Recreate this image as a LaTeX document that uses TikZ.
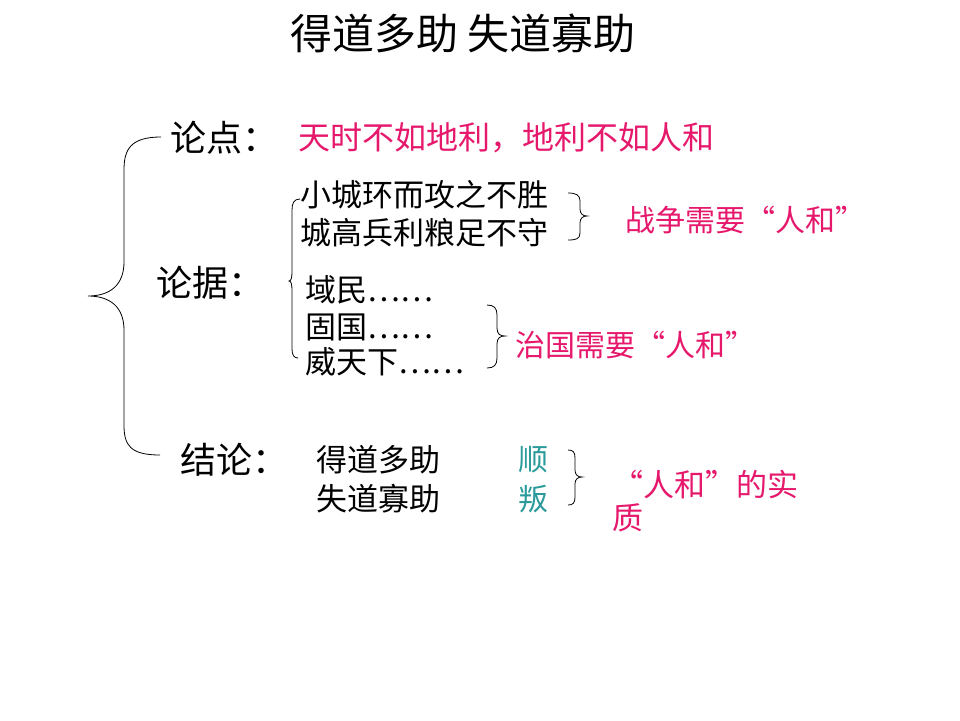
\documentclass[tikz,border=0pt]{standalone}
\usepackage{fontspec}
\setmainfont{Noto Sans CJK SC}
\definecolor{pinkc}{HTML}{E6186C}
\definecolor{tealc}{HTML}{2A9A9A}
\begin{document}
\begin{tikzpicture}[x=1pt,y=-1pt,
  txt/.style={anchor=west,inner sep=0pt,font=\fontsize{31}{31}\selectfont},
  head/.style={anchor=west,inner sep=0pt,font=\fontsize{36}{36}\selectfont},
  pinktxt/.style={txt,text=pinkc,font=\fontsize{30}{30}\selectfont},
  tealtxt/.style={txt,text=tealc,font=\fontsize{30}{30}\selectfont},
  brc/.style={draw=black,line width=0.8pt}]
\useasboundingbox (0,0) rectangle (960,720);
\node[inner sep=0pt,font=\fontsize{42}{42}\selectfont] (title) at (463,33) {得道多助 失道寡助};
\node[head] (ld) at (170,138) {论点：};
\node[pinktxt,font=\fontsize{32}{32}\selectfont] (p1) at (298,138) {天时不如地利，地利不如人和};
\node[head] (lj) at (156,283) {论据：};
\node[txt] (a1) at (300,195) {小城环而攻之不胜};
\node[txt] (a2) at (300,233) {城高兵利粮足不守};
\node[pinktxt] (p2) at (625,220) {战争需要“人和”};
\node[txt] (b1) at (305,290) {域民……};
\node[txt] (b2) at (305,327) {固国……};
\node[txt] (b3) at (305,362) {威天下……};
\node[pinktxt] (p3) at (515,345) {治国需要“人和”};
\node[head] (jl) at (180,460) {结论：};
\node[txt] (c1) at (316,460) {得道多助};
\node[txt] (c2) at (316,499) {失道寡助};
\node[tealtxt] (t1) at (518,460) {顺};
\node[tealtxt] (t2) at (518,499) {叛};
\node[pinktxt,font=\fontsize{31}{31}\selectfont] (p4) at (612,485) {“人和”的实};
\node[pinktxt,font=\fontsize{31}{31}\selectfont] (p5) at (612,518) {质};
% big brace
\draw[brc] (161,137) .. controls (130,137) and (124,150) .. (124,170)
  -- (124,262) .. controls (124,285) and (110,296) .. (88,296)
  .. controls (110,296) and (124,307) .. (124,330)
  -- (124,425) .. controls (124,445) and (130,455) .. (160,455);
% small left brace
\draw[brc] (300,199) .. controls (294,199) and (292,203) .. (292,210)
  -- (292,272) .. controls (292,278) and (291,281) .. (289,281)
  .. controls (291,281) and (292,284) .. (292,290)
  -- (292,349) .. controls (292,355) and (294,358) .. (298,358);
% right brace A
\draw[brc] (568,193) .. controls (576,193) and (580,195) .. (580,201)
  -- (580,209) .. controls (580,214) and (583,216) .. (587,216)
  .. controls (583,216) and (580,218) .. (580,223)
  -- (580,233) .. controls (580,239) and (576,240) .. (568,240);
% right brace B
\draw[brc] (487,305) .. controls (494,305) and (497,308) .. (497,315)
  -- (497,328) .. controls (497,334) and (500,336) .. (505,336)
  .. controls (500,336) and (497,338) .. (497,344)
  -- (497,358) .. controls (497,365) and (494,368) .. (487,368);
% right brace C
\draw[brc] (568,450) .. controls (573,450) and (575,452) .. (575,458)
  -- (575,470) .. controls (575,475) and (578,477) .. (582,477)
  .. controls (578,477) and (575,479) .. (575,484)
  -- (575,497) .. controls (575,503) and (573,505) .. (568,505);
\end{tikzpicture}
\end{document}
